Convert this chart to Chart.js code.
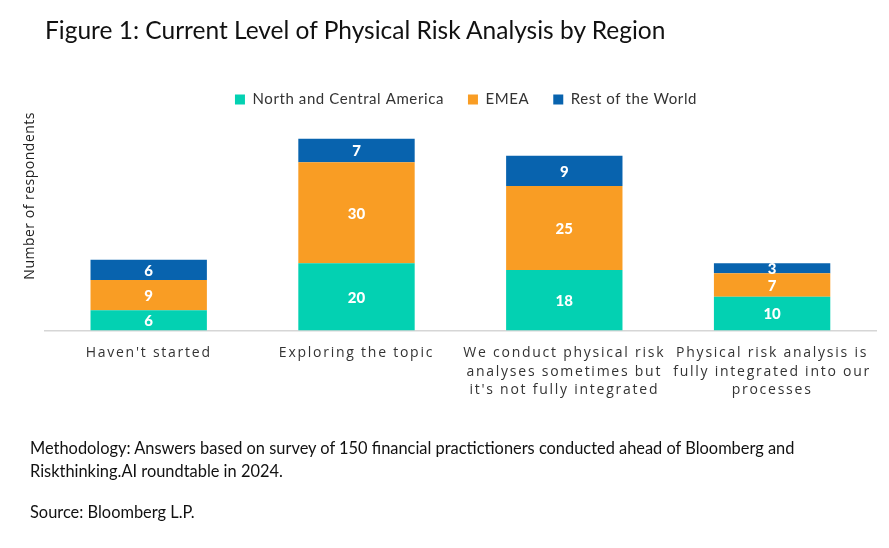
<!DOCTYPE html>
<html>
<head>
<meta charset="utf-8">
<script src="https://cdn.jsdelivr.net/npm/chart.js"></script>
<style>
  html, body { margin: 0; padding: 0; background: #fff; }
  body { width: 889px; height: 548px; position: relative; overflow: hidden; }
  #wrap { position: absolute; left: 0; top: 0; width: 889px; height: 548px; }
  #title { position: absolute; left: 45px; top: 15px; font-family: Lato, sans-serif; font-size: 24.5px; color: #111; white-space: nowrap; }
  .note { position: absolute; left: 30px; font-family: Lato, sans-serif; font-size: 16.4px; color: #111; white-space: nowrap; line-height: 23px; }
</style>
</head>
<body>
<div id="wrap"><canvas id="c" width="889" height="548"></canvas></div>
<div id="title">Figure 1: Current Level of Physical Risk Analysis by Region</div>
<div class="note" style="top:436px;">Methodology: Answers based on survey of 150 financial practictioners conducted ahead of Bloomberg and<br>Riskthinking.AI roundtable in 2024.</div>
<div class="note" style="top:500px;">Source: Bloomberg L.P.</div>
<script>
const categories = [
  ["Haven't started"],
  ["Exploring the topic"],
  ["We conduct physical risk", "analyses sometimes but", "it's not fully integrated"],
  ["Physical risk analysis is", "fully integrated into our", "processes"]
];
const northCentralAmerica = [6, 20, 18, 10];
const emea = [9, 30, 25, 7];
const restOfWorld = [6, 7, 9, 3];
const seriesNames = ["North and Central America", "EMEA", "Rest of the World"];
const yAxisLabel = "Number of respondents";

function withSpacing(chart, sp, fn) {
  const c = chart.ctx;
  const prev = c.letterSpacing || '0px';
  c.letterSpacing = sp;
  try { return fn(); } finally { c.letterSpacing = prev; }
}

const spacingPlugin = {
  id: 'spacing',
  afterInit(chart) {
    const lg = chart.legend;
    if (lg && !lg._patched) {
      const of = lg.fit.bind(lg), od = lg.draw.bind(lg);
      lg.fit = function () { return withSpacing(chart, '0.6px', of); };
      lg.draw = function () { return withSpacing(chart, '0.6px', od); };
      lg._patched = true;
    }
  },
  afterLayout(chart) {
    const x = chart.scales.x, y = chart.scales.y;
    if (!x._patched) {
      const orig = x.drawLabels.bind(x);
      x.drawLabels = function (area) { withSpacing(chart, '1.75px', () => orig(area)); };
      x._patched = true;
    }
    if (!y._patched) {
      const origT = y.drawTitle.bind(y);
      y.drawTitle = function () {
        const c = chart.ctx;
        c.save(); c.translate(2, -5);
        withSpacing(chart, '0.5px', origT);
        c.restore();
      };
      y._patched = true;
    }
    if (chart.legend) { chart.legend.left += 22; chart.legend.right += 22; }
  }
};

const valueLabels = {
  id: 'valueLabels',
  afterDatasetsDraw(chart) {
    const ctx = chart.ctx;
    ctx.save();
    ctx.letterSpacing = '0px';
    ctx.fillStyle = '#ffffff';
    ctx.font = '900 15px Lato, sans-serif';
    ctx.textAlign = 'center';
    ctx.textBaseline = 'middle';
    chart.data.datasets.forEach((ds, di) => {
      const meta = chart.getDatasetMeta(di);
      meta.data.forEach((bar, i) => {
        const v = ds.data[i];
        const mid = (bar.y + bar.base) / 2;
        ctx.fillText(String(v), bar.x, mid + 1);
      });
    });
    ctx.restore();
  }
};

new Chart(document.getElementById('c'), {
  type: 'bar',
  data: {
    labels: categories,
    datasets: [
      { label: seriesNames[0], data: northCentralAmerica, backgroundColor: '#03d1b2' },
      { label: seriesNames[1], data: emea, backgroundColor: '#f99d24' },
      { label: seriesNames[2], data: restOfWorld, backgroundColor: '#0863ae' }
    ]
  },
  options: {
    responsive: false,
    animation: false,
    devicePixelRatio: 1,
    layout: { padding: { left: 12, right: 13, top: 68, bottom: 143 } },
    datasets: { bar: { categoryPercentage: 1, barPercentage: 0.56 } },
    plugins: {
      legend: {
        position: 'top',
        labels: { boxWidth: 10, boxHeight: 10, padding: 24, color: '#333', font: { family: 'Lato, sans-serif', size: 15 } }
      },
      tooltip: { enabled: false }
    },
    scales: {
      x: {
        stacked: true,
        grid: { display: false },
        border: { display: true, color: '#d6d6d6', width: 1.5 },
        ticks: { color: '#333', padding: 6, maxRotation: 0, autoSkip: false, font: { family: '"Open Sans", sans-serif', size: 14, lineHeight: 1.3 } }
      },
      y: {
        stacked: true,
        min: 0,
        max: 63.5,
        grid: { display: false },
        border: { display: false },
        ticks: { display: false },
        title: { display: true, text: yAxisLabel, align: 'end', color: '#222', padding: { top: 8, bottom: 0 }, font: { family: '"Open Sans", sans-serif', size: 14 } }
      }
    }
  },
  plugins: [spacingPlugin, valueLabels]
});
</script>
</body>
</html>
